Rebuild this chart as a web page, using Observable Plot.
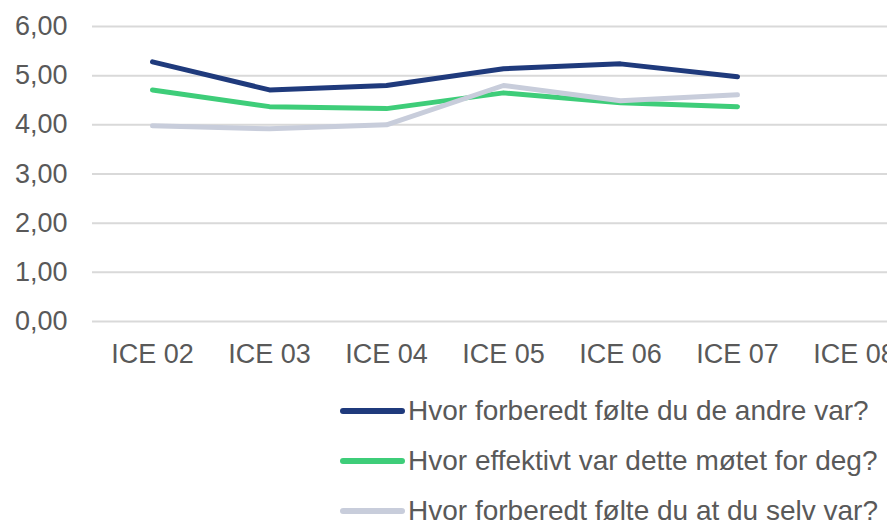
<!DOCTYPE html>
<html>
<head>
<meta charset="utf-8">
<script src="https://cdn.jsdelivr.net/npm/d3@7"></script>
<script src="https://cdn.jsdelivr.net/npm/@observablehq/plot@0.6"></script>
<style>
  html, body { margin: 0; padding: 0; background: #fff; overflow: hidden; }
  body { width: 887px; height: 523px; font-family: "Liberation Sans", Arial, sans-serif; }
  #chart svg { max-width: none !important; }
  #legend { padding-left: 340px; padding-top: 6px; white-space: nowrap; }
  .row { height: 50px; line-height: 50px; font-size: 28px; color: #595959; display: flex; align-items: center; }
  .row svg { flex: none; margin-right: 3px; }
</style>
</head>
<body>
<div id="chart"></div>
<div id="legend"></div>
<script>
const categories = ["ICE 02", "ICE 03", "ICE 04", "ICE 05", "ICE 06", "ICE 07", "ICE 08"];
const seriesNames = [
  "Hvor forberedt følte du de andre var?",
  "Hvor effektivt var dette møtet for deg?",
  "Hvor forberedt følte du at du selv var?"
];
const seriesColors = ["#1f3a7c", "#3ecd79", "#c8cddb"];
const andreValues  = [5.28, 4.71, 4.80, 5.14, 5.24, 4.98];
const effektivValues = [4.71, 4.37, 4.33, 4.65, 4.45, 4.37];
const selvValues   = [3.98, 3.92, 4.00, 4.80, 4.49, 4.61];
const yTicks = [0, 1, 2, 3, 4, 5, 6];

const allValues = [andreValues, effektivValues, selvValues];
const data = [];
allValues.forEach((vals, s) => vals.forEach((v, i) => data.push({series: seriesNames[s], cat: categories[i], value: v})));

const chart = Plot.plot({
  width: 914,
  height: 380,
  marginLeft: 92,
  marginRight: 0,
  marginTop: 26,
  marginBottom: 59,
  style: {fontFamily: "'Liberation Sans', Arial, sans-serif", fontSize: "27px", color: "#595959", background: "#fff", maxWidth: "none"},
  x: {type: "point", domain: categories, padding: 0.5},
  y: {domain: [0, 6]},
  color: {domain: seriesNames, range: seriesColors},
  marks: [
    Plot.gridY(yTicks, {stroke: "#d9d9d9", strokeOpacity: 1, strokeWidth: 2}),
    Plot.axisY(yTicks, {tickSize: 0, tickPadding: 25, label: null, tickFormat: d => d.toFixed(2).replace(".", ","), fill: "#595959"}),
    Plot.axisX({tickSize: 0, tickPadding: 22, label: null, fill: "#595959"}),
    Plot.line(data, {x: "cat", y: "value", z: "series", stroke: "series", strokeWidth: 5, strokeLinecap: "round", strokeLinejoin: "round"})
  ]
});
document.getElementById("chart").appendChild(chart);

const legend = document.getElementById("legend");
seriesNames.forEach((name, i) => {
  const row = document.createElement("div");
  row.className = "row";
  row.innerHTML = `<svg width="65" height="10"><line x1="3" y1="5" x2="62" y2="5" stroke="${seriesColors[i]}" stroke-width="6" stroke-linecap="round"/></svg><span>${name}</span>`;
  legend.appendChild(row);
});
</script>
</body>
</html>
